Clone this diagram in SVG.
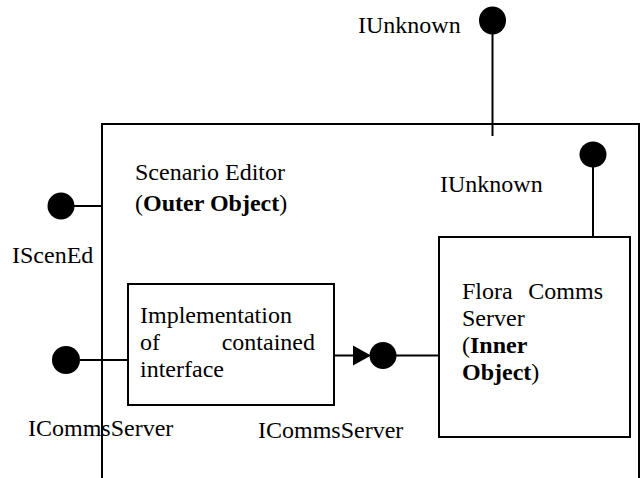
<svg xmlns="http://www.w3.org/2000/svg" width="642" height="478" viewBox="0 0 642 478">
<style>
text{font-family:"Liberation Serif","Times New Roman",serif;font-size:24px;fill:#000}
.b{font-weight:bold}
.ln{stroke:#000;stroke-width:2;fill:none}
.box{stroke:#000;stroke-width:2;fill:#fff}
.dot{fill:#000}
</style>
<rect width="642" height="478" fill="#fff"/>
<g id="outer-object">
<path class="ln" d="M102,478 V124 H639 V478"/>
<text x="135" y="180">Scenario Editor</text>
<text x="135" y="211">(<tspan class="b">Outer Object</tspan>)</text>
</g>
<g id="iunknown-outer">
<ellipse class="dot" cx="492.5" cy="20.5" rx="13.5" ry="14"/>
<text x="358" y="33">IUnknown</text>
</g>
<g id="iscened">
<ellipse class="dot" cx="61" cy="206" rx="13.5" ry="13.5"/>
<text x="12" y="263">IScenEd</text>
</g>
<g id="icommsserver-outer">
<ellipse class="dot" cx="66" cy="360" rx="14" ry="14"/>
<text x="28" y="436">ICommsServer</text>
</g>
<g id="implementation">
<rect class="box" x="128" y="284" width="206" height="121"/>
<text x="140" y="323">Implementation</text>
<text x="140" y="350">of</text>
<text x="315" y="350" text-anchor="end">contained</text>
<text x="140" y="377">interface</text>
</g>
<g id="icommsserver-inner">
<ellipse class="dot" cx="383" cy="355.5" rx="13.5" ry="13.5"/>
<text x="258" y="438">ICommsServer</text>
</g>
<g id="flora">
<rect class="box" x="439" y="237" width="191" height="200"/>
<text x="462" y="299">Flora</text>
<text x="603" y="299" text-anchor="end">Comms</text>
<text x="462" y="326">Server</text>
<text x="462" y="353">(<tspan class="b">Inner</tspan></text>
<text x="462" y="380"><tspan class="b">Object</tspan>)</text>
</g>
<g id="iunknown-inner">
<ellipse class="dot" cx="593" cy="154.5" rx="13.5" ry="13"/>
<text x="440" y="192">IUnknown</text>
</g>
<g id="connectors">
<path class="ln" d="M492.5,34 V136"/>
<path class="ln" d="M593,167 V237"/>
<path class="ln" d="M74,206 H102"/>
<path class="ln" d="M80,360 H128"/>
<path class="ln" d="M334,355.5 H355"/>
<path class="dot" d="M353,345.5 L371,355.5 L353,365.5 Z"/>
<path class="ln" d="M396,355.5 H439"/>
</g>
</svg>
